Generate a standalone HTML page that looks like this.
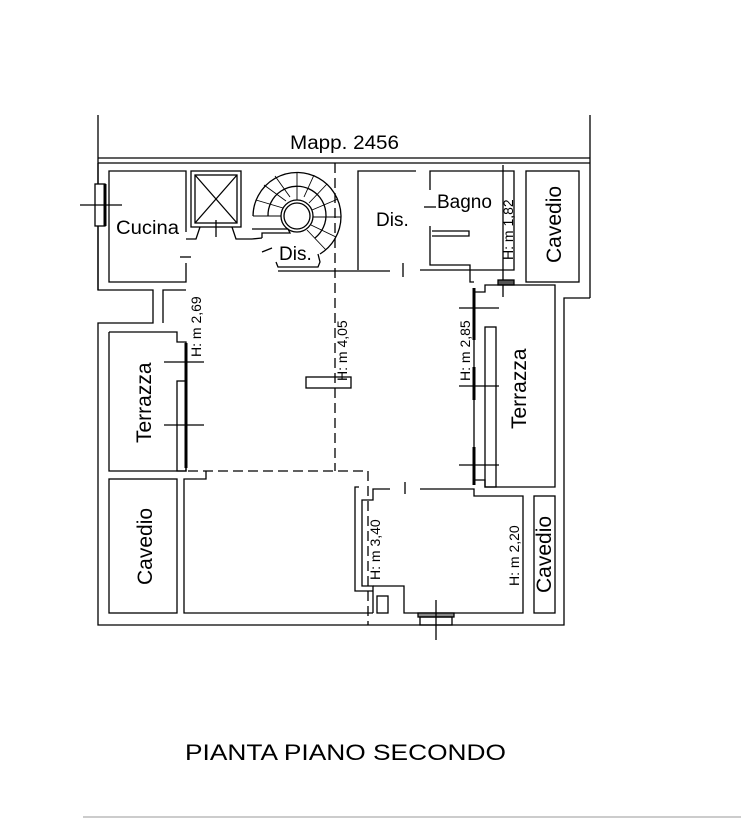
<!DOCTYPE html>
<html><head><meta charset="utf-8"><style>
html,body{margin:0;padding:0;background:#fff;}
svg{display:block;}
text{font-family:"Liberation Sans",Arial,sans-serif;fill:#000;}
</style></head><body>
<svg width="741" height="819" viewBox="0 0 741 819" xmlns="http://www.w3.org/2000/svg">
<g fill="none" stroke="#000" stroke-width="1.3">
<line x1="98" y1="115" x2="98" y2="290"/>
<line x1="590" y1="115" x2="590" y2="298"/>
<line x1="98" y1="158" x2="590" y2="158"/>
<line x1="98" y1="163" x2="590" y2="163"/>
<polyline points="98,163 98,290 153,290 153,323 98,323 98,625 564,625 564,298 590,298"/>
<polyline points="163,323 163,290 186,290"/>
<polyline points="186,232 186,171 109,171 109,282 186,282 186,263"/>
<line x1="180" y1="257" x2="191" y2="257"/>
<rect x="191" y="171" width="50" height="56"/>
<rect x="195" y="175" width="42" height="48"/>
<line x1="195" y1="175" x2="237" y2="223"/>
<line x1="237" y1="175" x2="195" y2="223"/>
<polyline points="200,227 196,239 186,239"/>
<polyline points="232,227 236,239 252,239"/>
<line x1="216" y1="220" x2="216" y2="237"/>
<circle cx="297" cy="216" r="13"/>
<circle cx="297" cy="216" r="16"/>
<path d="M253,216 A44,44 0 1 1 320,254"/>
<path d="M268,216 A29,29 0 1 1 315,238"/>
<g stroke-width="0.9">
<line x1="281" y1="216" x2="253" y2="216"/>
<line x1="283" y1="208" x2="256" y2="200"/>
<line x1="286" y1="201" x2="264" y2="185"/>
<line x1="290" y1="197" x2="275" y2="176"/>
<line x1="297" y1="200" x2="297" y2="172"/>
<line x1="304" y1="197" x2="314" y2="175"/>
<line x1="309" y1="203" x2="327" y2="184"/>
<line x1="312" y1="210" x2="338" y2="199"/>
<line x1="313" y1="217" x2="341" y2="217"/>
<line x1="311" y1="225" x2="336" y2="237"/>
<line x1="307" y1="230" x2="326" y2="250"/>
</g>
<polyline points="252,229 288,229 290,233 262,233 262,238"/>
<line x1="262" y1="238" x2="252" y2="239"/>
<line x1="262" y1="252" x2="272" y2="248"/>
<polyline points="318,254 320,262 318,267 278,267 276,262"/>
<line x1="278" y1="271" x2="390" y2="271"/>
<line x1="403" y1="263" x2="403" y2="277"/>
<g stroke-dasharray="10,5">
<line x1="335" y1="163" x2="335" y2="471"/>
<line x1="188" y1="471" x2="368" y2="471"/>
<line x1="368" y1="471" x2="368" y2="625"/>
</g>
<polyline points="420,270 514,270 514,171 430,171 430,190"/>
<polyline points="358,270 358,171 416,171"/>
<polyline points="430,226 430,265 470,265 470,282 474,282"/>
<polyline points="432,231 469,231 469,236 432,236"/>
<line x1="424" y1="207" x2="436" y2="207"/>
<line x1="503" y1="165" x2="503" y2="297"/>
<rect x="498" y="280" width="16" height="5" fill="#555"/>
<rect x="526" y="171" width="53" height="111"/>
<polyline points="474,288 474,480 485,480 485,487 555,487 555,285 485,285 485,292 474,292"/>
<rect x="485" y="327" width="11" height="160"/>
<line x1="474" y1="288" x2="474" y2="340" stroke-width="3"/>
<line x1="474" y1="367" x2="474" y2="400" stroke-width="3"/>
<line x1="474" y1="447" x2="474" y2="485" stroke-width="3"/>
<line x1="459" y1="308" x2="499" y2="308"/>
<line x1="459" y1="386" x2="499" y2="386"/>
<line x1="459" y1="465" x2="499" y2="465"/>
<polyline points="109,332 177,332 177,342 186,342 186,471 109,471 109,332"/>
<rect x="177" y="381" width="9" height="90"/>
<line x1="186" y1="343" x2="186" y2="468" stroke-width="3"/>
<line x1="164" y1="362" x2="204" y2="362"/>
<line x1="164" y1="425" x2="204" y2="425"/>
<rect x="306" y="377" width="45" height="11"/>
<rect x="109" y="479" width="68" height="134"/>
<polyline points="206,471 206,479 184,479 184,613 373,613"/>
<polyline points="390,489 373,489 373,500 362,500 362,586 373,586 373,613"/>
<polyline points="359,487 355,487 355,591 373,591"/>
<polyline points="420,489 474,489 474,496 523,496 523,613 404,613 404,586 373,586"/>
<rect x="377" y="596" width="11" height="17"/>
<line x1="405" y1="482" x2="405" y2="494"/>
<rect x="418" y="613" width="36" height="4" fill="#888"/>
<rect x="420" y="617" width="32" height="8"/>
<line x1="436" y1="600" x2="436" y2="640"/>
<rect x="534" y="496" width="21" height="117"/>
<rect x="95" y="184" width="10" height="42" fill="#fff"/>
<line x1="105" y1="184" x2="105" y2="226" stroke-width="3"/>
<line x1="80" y1="205" x2="122" y2="205"/>
</g>
<line x1="83" y1="817" x2="741" y2="817" stroke="#bbb" stroke-width="1.5"/>
<text x="290" y="149" font-size="19" textLength="109" lengthAdjust="spacingAndGlyphs">Mapp. 2456</text>
<text x="116" y="234" font-size="19" textLength="63" lengthAdjust="spacingAndGlyphs">Cucina</text>
<text x="279" y="260" font-size="19">Dis.</text>
<text x="376" y="226" font-size="19">Dis.</text>
<text x="437" y="208" font-size="19">Bagno</text>
<g font-size="14" fill="#222">
<text transform="translate(513,260) rotate(-90)">H: m 1,82</text>
<text transform="translate(201,357) rotate(-90)">H: m 2,69</text>
<text transform="translate(347,381) rotate(-90)">H: m 4,05</text>
<text transform="translate(470,381) rotate(-90)">H: m 2,85</text>
<text transform="translate(380,580) rotate(-90)">H: m 3,40</text>
<text transform="translate(519,586) rotate(-90)">H: m 2,20</text>
</g>
<g font-size="21">
<text transform="translate(561,263) rotate(-90)">Cavedio</text>
<text transform="translate(151,443) rotate(-90)">Terrazza</text>
<text transform="translate(526,429) rotate(-90)">Terrazza</text>
<text transform="translate(152,585) rotate(-90)">Cavedio</text>
<text transform="translate(551,593) rotate(-90)">Cavedio</text>
</g>
<text x="185" y="760" font-size="22" textLength="321" lengthAdjust="spacingAndGlyphs">PIANTA PIANO SECONDO</text>
</svg>
</body></html>
